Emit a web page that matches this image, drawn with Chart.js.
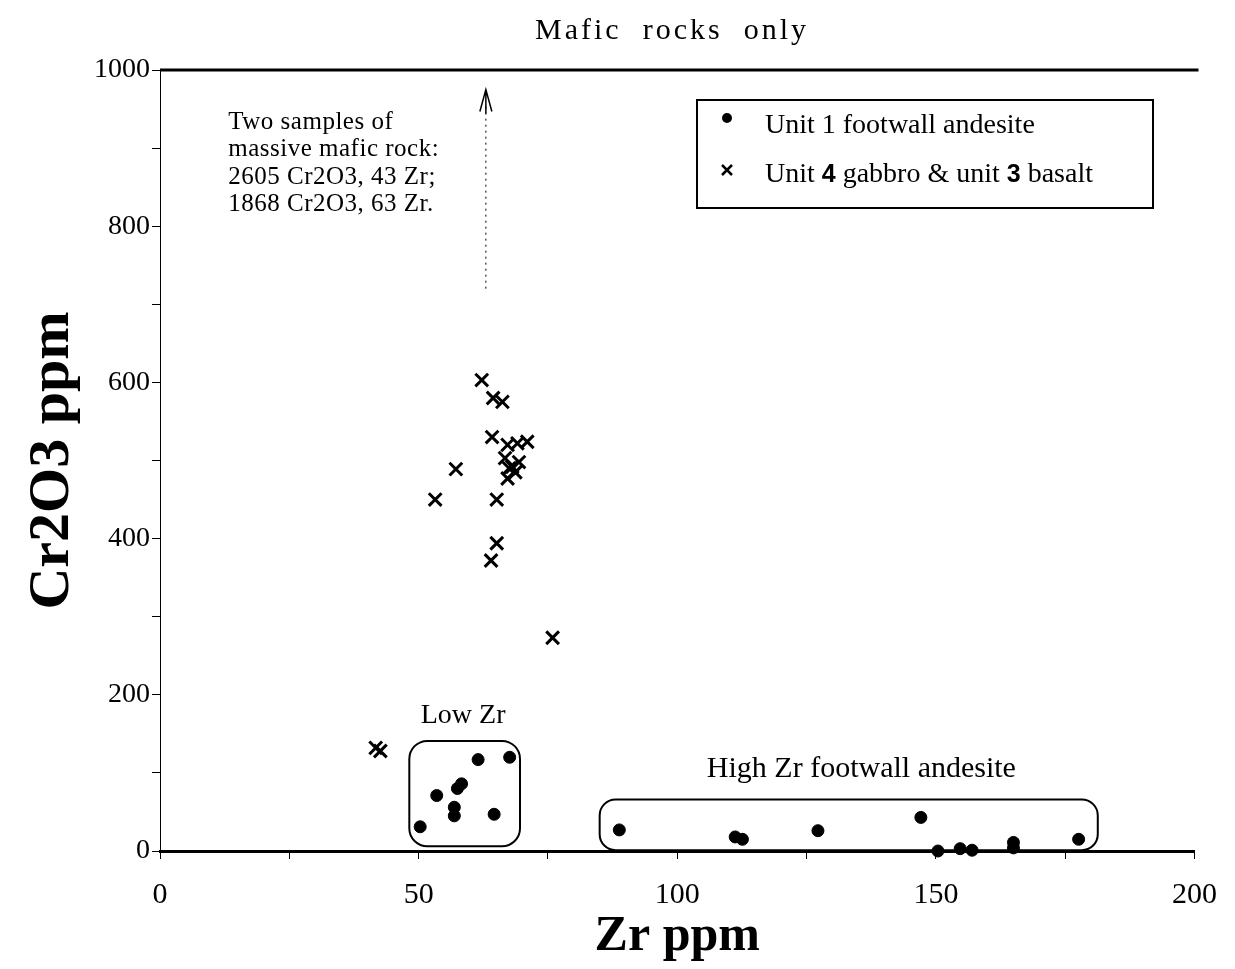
<!DOCTYPE html>
<html lang="en">
<head>
<meta charset="UTF-8">
<title>Mafic rocks only</title>
<style>
  body { margin: 0; background: #fff; }
  #chart { display: block; }
</style>
</head>
<body>
<canvas id="chart" width="1235" height="969"></canvas>
<script src="https://cdn.jsdelivr.net/npm/chart.js@4.4.1/dist/chart.umd.min.js"></script>
<script>
// Unit 1 footwall andesite (dots)
const zrUnit1 = [50.3, 53.5, 57.5, 58.3, 56.9, 56.9, 61.5, 67.6, 64.6,
                 88.8, 111.2, 112.6, 127.2, 147.1, 150.4, 154.7, 157.0, 165.0, 165.0, 177.6];
const crUnit1 = [31, 71, 80, 86, 56, 45, 117, 120, 47,
                 27, 18, 15, 26, 43, 0, 3, 1, 11, 4, 15];

// Unit 4 gabbro & unit 3 basalt (crosses)
const zrGabbro = [62.2, 64.4, 66.2, 64.2, 67.2, 69.1, 71.0, 66.7, 68.1, 69.4, 68.7,
                  67.5, 67.2, 57.2, 53.2, 65.1, 65.1, 64.0, 75.9, 41.7, 42.6];
const crGabbro = [603, 580, 575, 530, 520, 522, 524, 503, 492, 498, 485,
                  490, 477, 489, 450, 450, 394, 372, 273, 132, 128];

const xTicks = [0, 50, 100, 150, 200];
const yTicks = [0, 200, 400, 600, 800, 1000];
const seriesLabels = ['Unit 1 footwall andesite', 'Unit 4 gabbro & unit 3 basalt'];
const noteLines = ['Two samples of', 'massive mafic rock:', '2605 Cr2O3, 43 Zr;', '1868 Cr2O3, 63 Zr.'];

const SERIF = '"Liberation Serif", "DejaVu Serif", serif';

function toPoints(xs, ys) {
    return xs.map((x, i) => ({ x: x, y: ys[i] }));
}

// title, legend box, grouping boxes and the off-scale note
const extras = {
    id: 'extras',
    afterDraw(chart) {
        const ctx = chart.ctx;
        const area = chart.chartArea;
        const xs = chart.scales.x, ys = chart.scales.y;
        const px = v => xs.getPixelForValue(v);
        const py = v => ys.getPixelForValue(v);
        ctx.save();
        ctx.fillStyle = '#000';
        ctx.strokeStyle = '#000';

        // top frame line
        ctx.lineWidth = 3;
        ctx.beginPath();
        ctx.moveTo(area.left, area.top);
        ctx.lineTo(area.right + 4, area.top);
        ctx.stroke();

        // title
        ctx.font = '30px ' + SERIF;
        ctx.textAlign = 'center';
        ctx.textBaseline = 'middle';
        ctx.letterSpacing = '3px';
        ctx.fillText('Mafic  rocks  only', 672, 31);

        // note about the two off-scale samples
        ctx.font = '25px ' + SERIF;
        ctx.letterSpacing = '0.5px';
        ctx.textAlign = 'left';
        noteLines.forEach((t, i) => ctx.fillText(t, px(13.2), py(933) + i * 27.5));
        ctx.letterSpacing = '0px';

        // dotted arrow pointing off scale
        const ax = px(63);
        ctx.lineWidth = 1;
        ctx.setLineDash([2, 4]);
        ctx.beginPath();
        ctx.moveTo(ax, py(720));
        ctx.lineTo(ax, py(955));
        ctx.stroke();
        ctx.setLineDash([]);
        const tip = py(975);
        ctx.lineWidth = 1.5;
        ctx.beginPath();
        ctx.moveTo(ax - 6, tip + 22);
        ctx.lineTo(ax, tip);
        ctx.lineTo(ax + 6, tip + 22);
        ctx.moveTo(ax, tip);
        ctx.lineTo(ax, tip + 24);
        ctx.stroke();

        // grouping boxes
        ctx.lineWidth = 2;
        ctx.beginPath();
        ctx.roundRect(px(48.2), py(141), px(69.6) - px(48.2), py(6) - py(141), 18);
        ctx.stroke();
        ctx.beginPath();
        ctx.roundRect(px(85), py(66), px(181.3) - px(85), py(1) - py(66), 16);
        ctx.stroke();
        ctx.textAlign = 'center';
        ctx.font = '28px ' + SERIF;
        ctx.fillText('Low Zr', px(58.6), py(173));
        ctx.font = '30px ' + SERIF;
        ctx.fillText('High Zr footwall andesite', px(135.6), py(105));

        // legend
        const lx = 697, ly = 100, lw = 456, lh = 108;
        ctx.lineWidth = 2;
        ctx.strokeRect(lx, ly, lw, lh);
        const ds = chart.data.datasets;
        ctx.beginPath();
        ctx.arc(lx + 30, ly + 18, 5, 0, Math.PI * 2);
        ctx.fill();
        ctx.lineWidth = 2.5;
        ctx.beginPath();
        ctx.moveTo(lx + 25, ly + 65); ctx.lineTo(lx + 35, ly + 75);
        ctx.moveTo(lx + 35, ly + 65); ctx.lineTo(lx + 25, ly + 75);
        ctx.stroke();
        ctx.textAlign = 'left';
        ctx.font = '28px ' + SERIF;
        ctx.fillText(ds[0].label, lx + 68, ly + 26);
        // second entry has bold unit numbers
        const parts = [['Unit ', false], ['4', true], [' gabbro & unit ', false], ['3', true], [' basalt', false]];
        let tx = lx + 68;
        parts.forEach(p => {
            ctx.font = p[1] ? 'bold 25px "Liberation Sans", sans-serif' : '28px ' + SERIF;
            ctx.fillText(p[0], tx, ly + 75);
            tx += ctx.measureText(p[0]).width;
        });
        ctx.restore();
    }
};

new Chart(document.getElementById('chart'), {
    type: 'scatter',
    data: {
        datasets: [
            {
                label: seriesLabels[0],
                data: toPoints(zrUnit1, crUnit1),
                pointStyle: 'circle',
                pointRadius: 6,
                backgroundColor: '#000',
                borderColor: '#000',
                borderWidth: 1,
                clip: false
            },
            {
                label: seriesLabels[1],
                data: toPoints(zrGabbro, crGabbro),
                pointStyle: 'crossRot',
                pointRadius: 9,
                borderColor: '#000',
                borderWidth: 3,
                clip: false
            }
        ]
    },
    options: {
        responsive: false,
        animation: false,
        layout: { padding: { top: 70, right: 38, left: 0, bottom: 0 } },
        plugins: {
            legend: { display: false },
            title: { display: false },
            tooltip: { enabled: false }
        },
        scales: {
            x: {
                type: 'linear',
                min: 0,
                max: 200,
                afterFit: s => { s.height = 118; },
                border: { color: '#000', width: 3 },
                grid: { drawOnChartArea: false, tickLength: 8, color: '#000' },
                ticks: {
                    stepSize: 25,
                    color: '#000',
                    padding: 18,
                    maxRotation: 0,
                    autoSkip: false,
                    font: { family: SERIF, size: 30 },
                    callback: v => xTicks.includes(v) ? v : ''
                },
                title: {
                    display: true,
                    text: 'Zr ppm',
                    color: '#000',
                    font: { family: SERIF, size: 50, weight: 'bold', lineHeight: 1.2 },
                    padding: { top: 0, bottom: 2 }
                }
            },
            y: {
                type: 'linear',
                min: 0,
                max: 1000,
                afterFit: s => { s.width = 160; },
                border: { color: '#000', width: 1 },
                grid: { drawOnChartArea: false, tickLength: 8, color: '#000' },
                ticks: {
                    stepSize: 100,
                    color: '#000',
                    padding: 2,
                    autoSkip: false,
                    font: { family: SERIF, size: 28 },
                    callback: v => yTicks.includes(v) ? v : ''
                },
                title: {
                    display: true,
                    text: 'Cr2O3 ppm',
                    color: '#000',
                    font: { family: SERIF, size: 58, weight: 'bold', lineHeight: 1.2 },
                    padding: { top: 18, bottom: 0 }
                }
            }
        }
    },
    plugins: [extras]
});
</script>
</body>
</html>
